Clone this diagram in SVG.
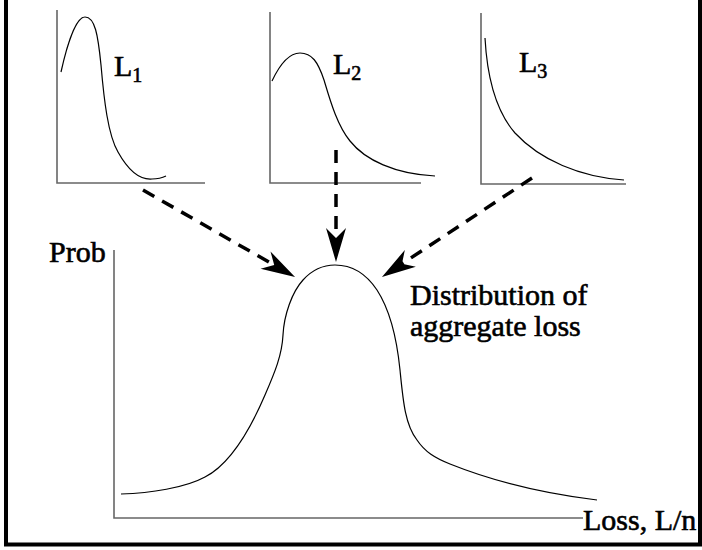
<svg xmlns="http://www.w3.org/2000/svg" width="702" height="550" viewBox="0 0 702 550">
<style>
text{font-family:"Liberation Serif","Times New Roman",serif;fill:#000;stroke:#000;stroke-width:0.6}
.lbl{font-size:30px}
.L{font-size:30px}
.sub{font-size:20px}
.axis{stroke:#666;stroke-width:1.6;fill:none}
.curve{stroke:#000;stroke-width:1.2;fill:none}
.dash{stroke:#000;stroke-width:3.5;fill:none;stroke-dasharray:13 9}
</style>
<defs>
<marker id="ah" markerUnits="userSpaceOnUse" markerWidth="40" markerHeight="24" viewBox="-36 -12 40 24" refX="-24" refY="0" orient="auto" overflow="visible">
<path d="M0,0 L-34,-10 L-24,0 L-34,10 Z" fill="#000"/>
</marker>
</defs>
<rect x="6" y="-10" width="694" height="554.5" fill="#fff" stroke="#000" stroke-width="4"/>
<g id="plot-L1">
<path class="axis" d="M57,10 V183 H205"/>
<path class="curve" d="M61,72 C67,45 76,17 85,17 C95,17 98,35 101,65 C104,100 108,135 118,152 C128,170 140,180 152,179 C158,179 162,178 166,176"/>
<text class="L" x="114" y="76">L<tspan class="sub" dy="6">1</tspan></text>
</g>
<g id="plot-L2">
<path class="axis" d="M270,12 V183 H421"/>
<path class="curve" d="M272,81 C280,64 290,53 300,53 C312,53 318,62 324,80 C330,100 337,125 350,141 C365,160 395,174 435,176"/>
<text class="L" x="333" y="74">L<tspan class="sub" dy="6">2</tspan></text>
</g>
<g id="plot-L3">
<path class="axis" d="M481,13 V184 H626"/>
<path class="curve" d="M485,38 C487,75 495,110 515,133 C540,160 580,177 624,180"/>
<text class="L" x="519" y="72">L<tspan class="sub" dy="6">3</tspan></text>
</g>
<g id="aggregate">
<path class="axis" d="M114,250 V518 H583"/>
<path class="curve" d="M121,494 C150,493 185,488 205,477 C230,464 250,430 265,395 C275,372 282,355 283,335 C284,315 292,292 303,280 C312,270 322,265 335,265 C350,265 365,272 377,290 C390,310 397,340 400,370 C403,400 405,425 417,440 C425,452 435,458 450,464 C490,480 540,493 597,500"/>
<text class="lbl" x="49" y="262">Prob</text>
<text class="lbl" x="583" y="530">Loss, L/n</text>
<text class="lbl" x="410" y="305">Distribution of</text>
<text class="lbl" x="410" y="336">aggregate loss</text>
</g>
<g id="connectors">
<line class="dash" x1="143" y1="190" x2="274.2" y2="265.1" marker-end="url(#ah)"/>
<line class="dash" x1="336" y1="150" x2="336" y2="238" marker-end="url(#ah)"/>
<line class="dash" x1="532" y1="178" x2="402" y2="263.8" marker-end="url(#ah)"/>
</g>
</svg>
